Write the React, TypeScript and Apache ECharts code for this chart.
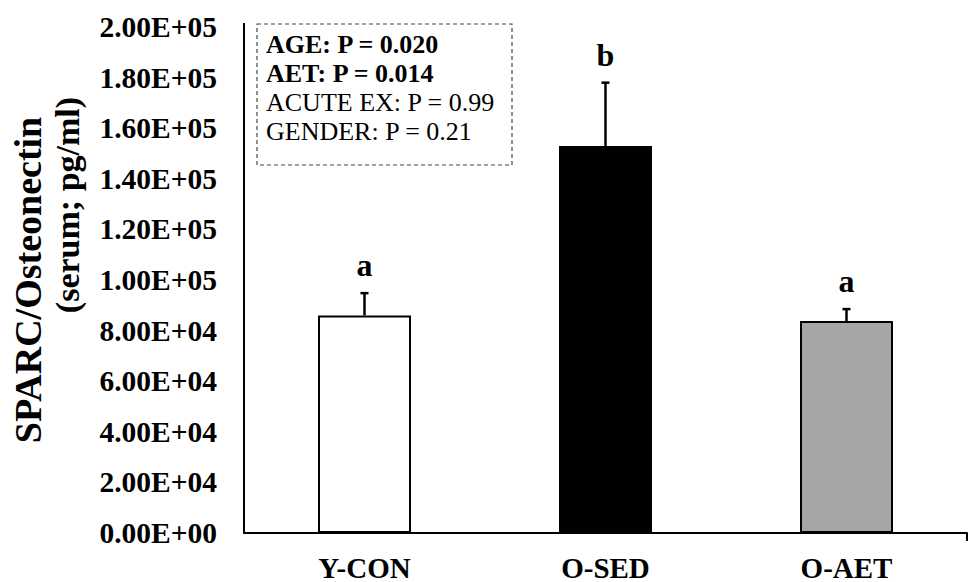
import React, { useEffect, useRef } from "react";
import * as echarts from "echarts";

const categories = ["Y-CON", "O-SED", "O-AET"];
const means = [86000, 153000, 83800];
const errors = [8800, 25000, 4700];
const letters = ["a", "b", "a"];
const barColors = ["#ffffff", "#000000", "#a6a6a6"];
const statLines = [
  { text: "AGE: P = 0.020", bold: true },
  { text: "AET: P = 0.014", bold: true },
  { text: "ACUTE EX: P = 0.99", bold: false },
  { text: "GENDER: P = 0.21", bold: false },
];
const yTitle1 = "SPARC/Osteonectin";
const yTitle2 = "(serum; pg/ml)";

const SERIF = "'Liberation Serif', 'Times New Roman', serif";

function fmtSci(v: number): string {
  if (v === 0) return "0.00E+00";
  const e = Math.floor(Math.log10(v));
  const m = v / Math.pow(10, e);
  return m.toFixed(2) + "E+" + String(e).padStart(2, "0");
}

export default function App() {
  const ref = useRef<HTMLDivElement>(null);
  useEffect(() => {
    if (!ref.current) return;
    const chart = echarts.init(ref.current, undefined, { renderer: "svg" });
    const option: any = {
      animation: false,
      backgroundColor: "#ffffff",
      grid: { left: 244, right: 4, top: 27, bottom: 49, containLabel: false },
      xAxis: {
        type: "category",
        data: categories,
        boundaryGap: true,
        axisLine: { lineStyle: { color: "#000", width: 2 } },
        axisTick: { alignWithLabel: true, length: 8, lineStyle: { color: "#000", width: 2 } },
        axisLabel: {
          color: "#000",
          fontFamily: SERIF,
          fontWeight: "bold",
          fontSize: 29,
          lineHeight: 29,
          margin: 20,
        },
      },
      yAxis: {
        type: "value",
        min: 0,
        max: 200000,
        interval: 20000,
        splitLine: { show: false },
        axisLine: { show: true, lineStyle: { color: "#000", width: 2 } },
        axisTick: { show: false },
        axisLabel: {
          color: "#000",
          fontFamily: SERIF,
          fontWeight: "bold",
          fontSize: 29.5,
          margin: 27,
          formatter: (v: number) => fmtSci(v),
        },
      },
      series: [
        {
          type: "bar",
          barWidth: 93,
          data: means.map((v, i) => ({
            value: v,
            itemStyle: { color: barColors[i], borderColor: "#000", borderWidth: 2 },
          })),
          z: 2,
        },
        {
          type: "custom",
          z: 3,
          data: means.map((v, i) => [i, v, errors[i]]),
          encode: { x: 0, y: 1 },
          renderItem: (params: any, api: any) => {
            const idx = api.value(0);
            const v = api.value(1);
            const e = api.value(2);
            const base = api.coord([idx, v]);
            const top = api.coord([idx, v + e]);
            return {
              type: "group",
              children: [
                {
                  type: "line",
                  shape: { x1: base[0], y1: base[1], x2: top[0], y2: top[1] },
                  style: { stroke: "#000", lineWidth: 2.5 },
                },
                {
                  type: "line",
                  shape: { x1: top[0] - 4, y1: top[1], x2: top[0] + 4, y2: top[1] },
                  style: { stroke: "#000", lineWidth: 2.5 },
                },
                {
                  type: "text",
                  x: top[0],
                  y: top[1] - 12,
                  style: {
                    text: letters[params.dataIndex],
                    fill: "#000",
                    font: "bold 32px " + SERIF,
                    align: "center",
                    verticalAlign: "bottom",
                  },
                },
              ],
            };
          },
        },
      ],
      graphic: [
        {
          type: "rect",
          shape: { x: 257, y: 24, width: 255, height: 141 },
          style: { fill: "none", stroke: "#444", lineWidth: 1.2, lineDash: [4, 3] },
        },
        ...statLines.map((l, i) => ({
          type: "text",
          x: 266,
          y: 44 + i * 29.3,
          style: {
            text: l.text,
            fill: "#000",
            font: (l.bold ? "bold " : "") + "26px " + SERIF,
            align: "left",
            verticalAlign: "middle",
          },
        })),
        {
          type: "text",
          x: 28,
          y: 280,
          rotation: Math.PI / 2,
          style: {
            text: yTitle1,
            fill: "#000",
            font: "bold 38px " + SERIF,
            align: "center",
            verticalAlign: "middle",
          },
        },
        {
          type: "text",
          x: 67,
          y: 205,
          rotation: Math.PI / 2,
          style: {
            text: yTitle2,
            fill: "#000",
            font: "bold 34px " + SERIF,
            align: "center",
            verticalAlign: "middle",
          },
        },
        {
          type: "line",
          shape: { x1: 967, y1: 533, x2: 967, y2: 541 },
          style: { stroke: "#000", lineWidth: 2 },
        },
        {
          type: "line",
          shape: { x1: 244, y1: 23, x2: 244, y2: 28 },
          style: { stroke: "#000", lineWidth: 2 },
        },
      ],
    };
    chart.setOption(option);
    return () => chart.dispose();
  }, []);
  return (
    <div
      ref={ref}
      style={{ position: "fixed", left: 0, top: 0, width: 971, height: 582, background: "#fff" }}
    />
  );
}
